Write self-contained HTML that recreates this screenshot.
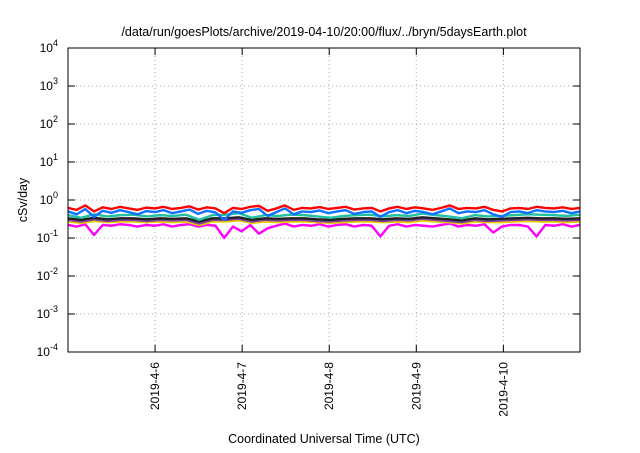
<!DOCTYPE html>
<html><head><meta charset="utf-8"><style>
body{margin:0;background:#fff}
svg text{font-family:"Liberation Sans",sans-serif;fill:#000}
</style></head><body>
<svg width="640" height="448">
<g id="g"></g>
</svg>
<script>
const xTickLabels=["2019-4-6","2019-4-7","2019-4-8","2019-4-9","2019-4-10"];
const xTickDays=[1,2,3,4,5];
const yTickExp=[-4,-3,-2,-1,0,1,2,3,4];
const red=[0.62,0.55,0.72,0.5,0.64,0.58,0.66,0.6,0.55,0.63,0.6,0.66,0.58,0.62,0.68,0.56,0.64,0.6,0.45,0.62,0.58,0.66,0.7,0.52,0.6,0.72,0.55,0.62,0.6,0.65,0.58,0.62,0.66,0.56,0.6,0.62,0.5,0.6,0.66,0.58,0.64,0.6,0.55,0.62,0.72,0.58,0.62,0.6,0.66,0.55,0.5,0.6,0.62,0.58,0.66,0.62,0.6,0.64,0.58,0.62];
const blue=[0.5,0.42,0.58,0.36,0.52,0.46,0.54,0.48,0.42,0.51,0.48,0.54,0.45,0.5,0.56,0.43,0.52,0.47,0.3,0.5,0.46,0.54,0.58,0.38,0.48,0.6,0.42,0.5,0.48,0.53,0.45,0.5,0.54,0.43,0.48,0.5,0.36,0.48,0.54,0.45,0.52,0.48,0.42,0.5,0.6,0.45,0.5,0.48,0.54,0.42,0.36,0.48,0.5,0.45,0.54,0.5,0.48,0.52,0.45,0.5];
const teal=[0.4,0.34,0.42,0.37,0.4,0.41,0.37,0.4,0.38,0.41,0.3,0.4,0.41,0.45,0.34,0.4,0.38,0.41,0.4,0.37,0.34,0.38,0.4,0.41,0.37,0.4,0.38,0.44,0.4,0.37,0.33,0.4,0.37,0.38,0.4,0.42,0.41,0.4,0.38,0.41];
const black=[0.33,0.3,0.34,0.31,0.33,0.33,0.31,0.33,0.32,0.33,0.27,0.33,0.33,0.35,0.3,0.33,0.32,0.33,0.33,0.31,0.3,0.32,0.33,0.33,0.31,0.33,0.32,0.35,0.33,0.31,0.29,0.33,0.31,0.32,0.33,0.34,0.33,0.33,0.32,0.33];
const purple=[0.3,0.27,0.31,0.28,0.3,0.3,0.28,0.3,0.29,0.3,0.24,0.3,0.3,0.32,0.27,0.3,0.29,0.3,0.3,0.28,0.27,0.29,0.3,0.3,0.28,0.3,0.29,0.32,0.3,0.28,0.26,0.3,0.28,0.29,0.3,0.31,0.3,0.3,0.29,0.3];
const yellow=[0.27,0.25,0.28,0.26,0.27,0.27,0.26,0.27,0.26,0.27,0.22,0.27,0.27,0.29,0.25,0.27,0.26,0.27,0.27,0.26,0.25,0.26,0.27,0.27,0.26,0.27,0.26,0.29,0.27,0.26,0.24,0.27,0.26,0.26,0.27,0.28,0.27,0.27,0.26,0.27];
const magenta=[0.22,0.2,0.23,0.12,0.22,0.21,0.23,0.22,0.2,0.22,0.21,0.23,0.2,0.22,0.23,0.2,0.22,0.21,0.1,0.2,0.15,0.22,0.13,0.18,0.21,0.24,0.2,0.22,0.21,0.23,0.2,0.22,0.23,0.2,0.22,0.21,0.11,0.21,0.23,0.2,0.22,0.21,0.2,0.22,0.24,0.2,0.22,0.21,0.23,0.14,0.2,0.22,0.22,0.2,0.11,0.22,0.21,0.23,0.2,0.22];
const L=68,R=580,T=48,B=352,days=5.88;
const sx=d=>L+(d/days)*(R-L);
const sy=v=>B-(Math.log10(v)+4)/8*(B-T);
const g=document.getElementById('g');
const NS="http://www.w3.org/2000/svg";
function mk(t,a,txt){const e=document.createElementNS(NS,t);for(const k in a)e.setAttribute(k,a[k]);if(txt!==undefined)e.textContent=txt;g.appendChild(e);return e;}
yTickExp.forEach(p=>{const y=sy(Math.pow(10,p));
 if(p>-4&&p<4){const l=mk('line',{x1:L,x2:R,y1:y,y2:y,stroke:'#aaa','stroke-dasharray':'1,3'});}
 const t=mk('line',{x1:L,x2:L+7,y1:y,y2:y,stroke:'#000'});
 const t2=mk('line',{x1:R-7,x2:R,y1:y,y2:y,stroke:'#000'});
 const tx=mk('text',{x:L-10,y:y+4,'text-anchor':'end','font-size':12},'10');
 const ts=document.createElementNS(NS,'tspan');ts.setAttribute('dy','-6');ts.setAttribute('font-size','9');ts.textContent=String(p);tx.appendChild(ts);
});
xTickDays.forEach((d,i)=>{const x=sx(d);
 const l=mk('line',{x1:x,x2:x,y1:T,y2:B,stroke:'#aaa','stroke-dasharray':'1,3'});
 const a=mk('line',{x1:x,x2:x,y1:B-7,y2:B,stroke:'#000'});
 const b=mk('line',{x1:x,x2:x,y1:T,y2:T+7,stroke:'#000'});
 const tx=mk('text',{x:x+4,y:B+10,'text-anchor':'end','font-size':12,transform:`rotate(-90 ${x+4} ${B+10})`},xTickLabels[i]);
 
});
const series=[[magenta,'#ff00ff'],[yellow,'#e8d000'],[purple,'#8040a0'],[black,'#202020'],[teal,'#20c0a0'],[red,'#ff0000'],[blue,'#1070ff']];
const names=['magenta','yellow','purple','black','teal','red','blue'];
series.forEach(([arr,c],si)=>{
 const pts=arr.map((v,i)=>sx(i*days/(arr.length-1))+','+sy(v)).join(' ');
 const p=mk('polyline',{points:pts,fill:'none',stroke:c,'stroke-width':2.4,'stroke-linejoin':'round'});
 
});
const f=mk('rect',{x:L,y:T,width:R-L,height:B-T,fill:'none',stroke:'#000'});
const ti=mk('text',{x:324,y:36,'text-anchor':'middle','font-size':12.5},'/data/run/goesPlots/archive/2019-04-10/20:00/flux/../bryn/5daysEarth.plot');
const xt=mk('text',{x:324,y:443,'text-anchor':'middle','font-size':12.5},'Coordinated Universal Time (UTC)');
const yt=mk('text',{x:27,y:200,'text-anchor':'middle','font-size':12.5,transform:'rotate(-90 27 200)'},'cSv/day');
</script>
</body></html>
